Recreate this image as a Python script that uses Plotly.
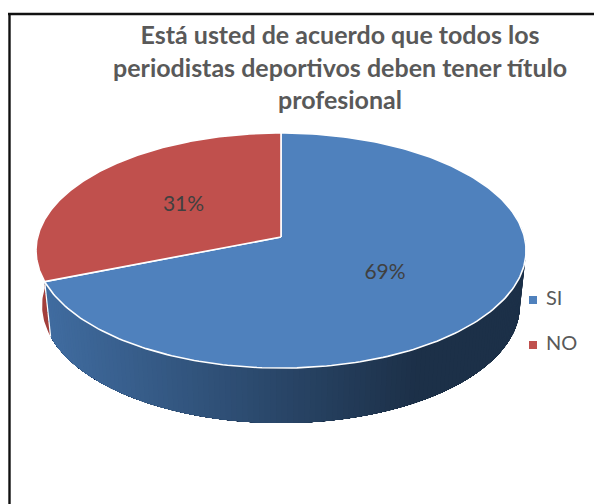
import numpy as np
import plotly.graph_objects as go

categories = ["SI", "NO"]
values = [69, 31]
title_lines = ["Está usted de acuerdo que todos los",
               "periodistas deportivos deben tener título",
               "profesional"]
top_colors = ["#4F81BD", "#C0504D"]

W, H = 594, 504
CX, CY = 281, 237
R, VS, K = 243.4, 116.0, 0.115
DEPTH, SHRINK = 55.0, 0.975


def project(theta, f=1.0, depth=0.0):
    """theta: clockwise from 12 o'clock, f: fraction of radius."""
    u, v = f * np.sin(theta), f * np.cos(theta)
    s = 1 / (1 + K * v)
    shrink = 1 - (1 - SHRINK) * depth / DEPTH
    return CX + R * u * s * shrink, CY - VS * v * s + depth


def lerp_color(a, b, t):
    return "rgb(%d,%d,%d)" % tuple(round(a[i] + (b[i] - a[i]) * t) for i in range(3))


fracs = np.array(values) / sum(values)
edges = np.concatenate([[0], np.cumsum(fracs)]) * 2 * np.pi
fig = go.Figure()

# side wall of the NO slice (visible part only)
t_no = np.linspace(edges[1], np.radians(272), 30)
x1, y1 = project(t_no)
x2, y2 = project(t_no[::-1], depth=DEPTH)
fig.add_trace(go.Scatter(x=np.r_[x1, x2], y=np.r_[y1, y2], fill="toself", mode="lines",
                         line=dict(width=0), fillcolor="#A23E3B", showlegend=False, hoverinfo="skip"))

# side wall of the SI slice: painted right to left so no seams appear
side_left = (64, 108, 160)
side_right = (28, 48, 72)
t_side = np.linspace(np.radians(80), edges[1], 141)
for a in t_side[:-1]:
    ts = np.linspace(a, edges[1], 200)
    xa, ya = project(ts)
    xb, yb = project(ts[::-1], depth=DEPTH)
    t = np.clip((xa[0] - 45) / (420 - 45), 0, 1)
    c = lerp_color(side_left, side_right, t)
    fig.add_trace(go.Scatter(x=np.r_[xa, xb], y=np.r_[ya, yb], fill="toself", mode="lines",
                             line=dict(width=0), fillcolor=c,
                             showlegend=False, hoverinfo="skip"))

# white gap between the two side walls
xg, yg = project(np.array([edges[1], edges[1]]), depth=np.array([0, DEPTH]))
fig.add_trace(go.Scatter(x=xg, y=yg, mode="lines", line=dict(color="white", width=1.2),
                         showlegend=False, hoverinfo="skip"))

# top faces
for i, cat in enumerate(categories):
    t = np.linspace(edges[i], edges[i + 1], 240)
    x, y = project(t)
    x = np.r_[CX, x, CX]
    y = np.r_[CY, y, CY]
    fig.add_trace(go.Scatter(x=x, y=y, fill="toself", mode="lines",
                             line=dict(color="white", width=1.6), fillcolor=top_colors[i],
                             showlegend=False, hoverinfo="skip"))

# data labels
label_dy = [3, 0]
for i, cat in enumerate(categories):
    lx, ly = project((edges[i] + edges[i + 1]) / 2, f=0.5)
    fig.add_trace(go.Scatter(x=[lx], y=[ly + label_dy[i]], mode="text", text=[f"{values[i]}%"],
                             textposition="middle center",
                             textfont=dict(family="Lato", size=21, color="#404040"),
                             showlegend=False, hoverinfo="skip"))

# legend entries
legend_y = [300, 345]
for i, cat in enumerate(categories):
    fig.add_trace(go.Scatter(x=[533], y=[legend_y[i]], mode="markers", name=cat,
                             marker=dict(symbol="square", size=8, color=top_colors[i]),
                             showlegend=False, hoverinfo="skip"))
    fig.add_trace(go.Scatter(x=[546], y=[legend_y[i]], mode="text",
                             text=[cat], textposition="middle right",
                             textfont=dict(family="Lato", size=20, color="#595959"),
                             showlegend=False, hoverinfo="skip"))

fig.add_annotation(xref="paper", yref="paper", x=340 / W, y=1 - 66.5 / H, showarrow=False,
                   text="<br>".join(title_lines), align="center", xanchor="center", yanchor="middle",
                   font=dict(family="Lato", size=25, color="#595959", weight="bold"))

fig.add_shape(type="line", xref="paper", yref="paper", x0=9.5 / W, x1=9.5 / W, y0=0, y1=1 - 13 / H,
              line=dict(color="#111111", width=2.4))
fig.add_shape(type="line", xref="paper", yref="paper", x0=8 / W, x1=1, y0=1 - 14 / H, y1=1 - 14 / H,
              line=dict(color="#111111", width=2.4))

fig.update_layout(
    width=W, height=H, margin=dict(l=0, r=0, t=0, b=0),
    paper_bgcolor="white", plot_bgcolor="white", showlegend=False,
    xaxis=dict(range=[0, W], visible=False, fixedrange=True),
    yaxis=dict(range=[H, 0], visible=False, fixedrange=True),
)
fig.write_html("out.html", default_width=f"{W}px", default_height=f"{H}px",
               config={"responsive": False, "displayModeBar": False},
               post_script="document.body.style.margin='0';document.documentElement.style.overflow='hidden';")
